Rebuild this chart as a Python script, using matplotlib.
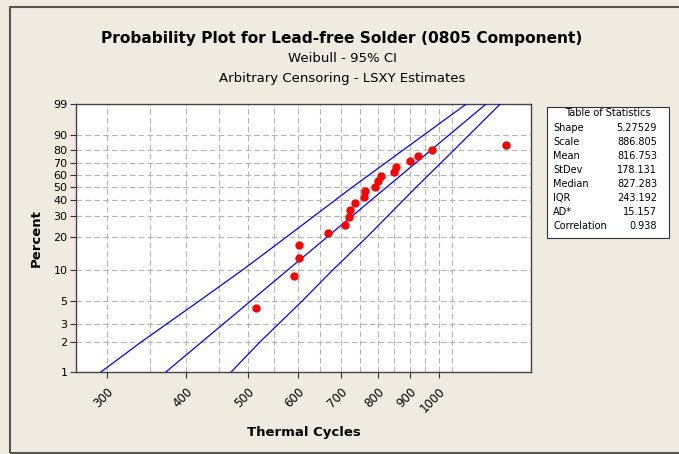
import matplotlib
matplotlib.use("Agg")
import matplotlib.pyplot as plt
import numpy as np
from matplotlib.patches import Rectangle

# failure data (thermal cycles, plotted percent)
cycles = [515, 591, 602, 602, 669, 712, 721, 724, 737, 762,
          765, 794, 802, 809, 850, 857, 900, 925, 974, 1273]
percent = [4.3, 8.6, 12.9, 16.9, 21.4, 25.3, 29.6, 33.7, 38.5, 42.5,
           46.7, 50.3, 55.0, 59.3, 62.7, 66.9, 71.6, 75.4, 80.0, 83.9]

# fitted Weibull parameters
shape = 5.27529
scale = 886.805

# 95% CI bounds
ci_percent = [1, 2, 5, 10, 20, 50, 80, 99]
ci_left = [292.9, 339.9, 418.9, 491.4, 575.8, 730.3, 876.9, 1102.4]
ci_right = [469.9, 522.7, 608.7, 681.2, 770.9, 920.6, 1054.8, 1247.2]

stat_names = ["Shape", "Scale", "Mean", "StDev", "Median", "IQR", "AD*", "Correlation"]
stat_values = ["5.27529", "886.805", "816.753", "178.131", "827.283", "243.192", "15.157", "0.938"]

y_ticks = [1, 2, 3, 5, 10, 20, 30, 40, 50, 60, 70, 80, 90, 99]
x_ticks = [300, 400, 500, 600, 700, 800, 900, 1000]
x_grid = list(range(300, 1100, 50))

W, H = 679, 454
BG = "#EFEBE1"


def fwd(p):
    p = np.clip(np.asarray(p, dtype=float), 1e-6, 100 - 1e-6)
    return np.log(-np.log(1 - p / 100.0))


def inv(w):
    return 100.0 * (1 - np.exp(-np.exp(w)))


fig = plt.figure(figsize=(W / 100, H / 100), dpi=100, facecolor=BG)
fig.patches.append(Rectangle((9.5 / W, 1.5 / H), 1.0, 1 - 8 / H, transform=fig.transFigure,
                             facecolor="none", edgecolor="#555555", linewidth=1.5))

ax = fig.add_axes([76 / W, 1 - 372.3 / H, (531 - 76) / W, (372.3 - 104.3) / H])
ax.set_facecolor("white")
ax.set_xscale("log")
ax.set_yscale("function", functions=(fwd, inv))
ax.set_xlim(268, 1396)
ax.set_ylim(1, 99)

# fitted line
pp = np.array([1, 99.0])
ww = np.log(-np.log(1 - pp / 100))
ax.plot(scale * np.exp(ww / shape), pp, color="#0000FF", lw=0.9, zorder=3)
ax.plot(ci_left, ci_percent, color="#0000FF", lw=0.9, zorder=3)
ax.plot(ci_right, ci_percent, color="#0000FF", lw=0.9, zorder=3)
ax.plot(cycles, percent, "o", color="#FF0000", markersize=6, markeredgewidth=0, zorder=4)

ax.set_xticks(x_ticks)
ax.set_xticklabels([str(v) for v in x_ticks], rotation=45, ha="right", va="top",
                   rotation_mode="anchor", fontsize=8.5)
ax.set_xticks(x_grid, minor=True)
ax.xaxis.set_minor_formatter(matplotlib.ticker.NullFormatter())
ax.set_yticks(y_ticks)
ax.set_yticklabels([str(v) for v in y_ticks], fontsize=8)
ax.yaxis.set_minor_locator(matplotlib.ticker.NullLocator())
ax.tick_params(axis="both", which="major", length=4, width=0.8, color="#333333", pad=2)
ax.tick_params(axis="x", which="major", pad=5)
ax.tick_params(axis="x", which="minor", length=0)
ax.grid(True, which="both", axis="x", color="#B4B4B4", linestyle=(0, (5, 3)), linewidth=0.8)
ax.grid(True, which="major", axis="y", color="#B4B4B4", linestyle=(0, (5, 3)), linewidth=0.8)
for s in ax.spines.values():
    s.set_color("#444444")
    s.set_linewidth(1.0)

ax.set_xlabel("Thermal Cycles", fontsize=9.5, fontweight="bold", labelpad=8)
ax.set_ylabel("Percent", fontsize=9.5, fontweight="bold", labelpad=8)

fig.text(342 / W, 1 - 38.5 / H, "Probability Plot for Lead-free Solder (0805 Component)",
         ha="center", va="center", fontsize=11.1, fontweight="bold")
fig.text(342 / W, 1 - 58.5 / H, "Weibull - 95% CI", ha="center", va="center", fontsize=9.5)
fig.text(342 / W, 1 - 78.5 / H, "Arbitrary Censoring - LSXY Estimates",
         ha="center", va="center", fontsize=9.5)

# table of statistics
fig.patches.append(Rectangle((547.3 / W, 1 - 237.7 / H), 122 / W, 131 / H, transform=fig.transFigure,
                             facecolor="white", edgecolor="#333333", linewidth=0.8))
fig.text(608 / W, 1 - 113 / H, "Table of Statistics", ha="center", va="center", fontsize=7)
for i, (name, val) in enumerate(zip(stat_names, stat_values)):
    y = 1 - (127.7 + i * 14.1) / H
    fig.text(553 / W, y, name, ha="left", va="center", fontsize=7)
    fig.text(657 / W, y, val, ha="right", va="center", fontsize=7)

fig.savefig("out.png", dpi=100, facecolor=BG)
